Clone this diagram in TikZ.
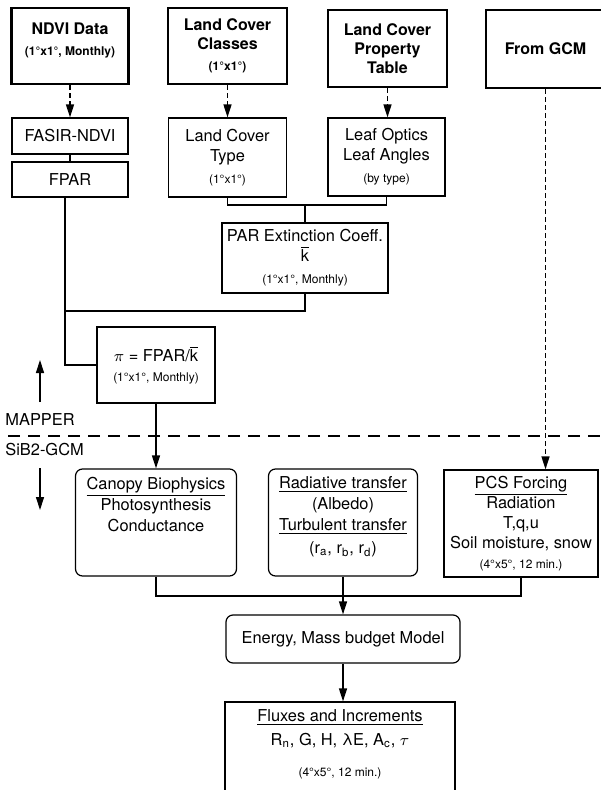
\documentclass[tikz,border=0pt]{standalone}
\usepackage{fontspec}
\setmainfont{TeX Gyre Heros}
\usetikzlibrary{arrows.meta, positioning}
\newcommand{\tinyfont}{\fontsize{6}{7}\selectfont}
\newcommand{\kbar}{$\overline{\mbox{k}}$}

\begin{document}
\begin{tikzpicture}[x=0.5pt, y=-0.5pt,
  cbox/.style={draw, line width=0.6pt, inner sep=0pt, align=center, font=\fontsize{8.2}{10}\selectfont},
  srcbox/.style={cbox, line width=1.3pt, font=\fontsize{8}{9.5}\selectfont\bfseries},
  rbox/.style={cbox, rounded corners=3.5pt},
  txt/.style={inner sep=0pt, align=center, font=\fontsize{8.2}{10.5}\selectfont},
  flow/.style={line width=0.65pt, -{Triangle[length=6.5pt,width=4pt]}},
  dashflow/.style={flow, dash pattern=on 2.5pt off 1.5pt},
  link/.style={line width=0.65pt}]

\useasboundingbox (0,0) rectangle (600,790);

% data sources
\node[srcbox, minimum width=58.5pt, minimum height=38pt] (ndvi) at (70,46) {};
\node[txt, font=\fontsize{8}{9.5}\selectfont\bfseries, below=8pt of ndvi.north] (ndvi-txt)
  {NDVI Data\\[1pt]{\tinyfont (1°x1°, Monthly)}};
\node[srcbox, minimum width=59.5pt, minimum height=38pt] (lcc) at (227.5,46)
  {Land Cover\\Classes\\[1pt]{\tinyfont (1°x1°)}};
\node[srcbox, minimum width=59.5pt, minimum height=38.5pt] (lcpt) at (387.5,48.5)
  {Land Cover\\Property\\Table};
\node[srcbox, minimum width=59.5pt, minimum height=39pt] (gcm) at (545.5,49) {From GCM};

% mapper products
\node[cbox, minimum width=58pt, minimum height=18pt] (fasir) at (70,136) {FASIR-NDVI};
\node[cbox, minimum width=58pt, minimum height=17.5pt] (fpar) at (70,179.5) {FPAR};
\node[cbox, minimum width=59pt, minimum height=39.5pt] (lct) at (227.5,157.5)
  {Land Cover\\Type\\[1pt]{\tinyfont (1°x1°)}};
\node[cbox, minimum width=58.5pt, minimum height=39pt] (leaf) at (386.5,157)
  {Leaf Optics\\Leaf Angles\\[1pt]{\tinyfont (by type)}};
\node[cbox, minimum width=83pt, minimum height=35pt] (par) at (305,258)
  {PAR Extinction Coeff.\\\kbar\\[1pt]{\tinyfont (1°x1°, Monthly)}};
\node[cbox, minimum width=59pt, minimum height=38pt] (pi) at (156,365)
  {$\pi$ = FPAR/\kbar\\{\tinyfont (1°x1°, Monthly)}};

% SiB2 model
\node[rbox, minimum width=80.5pt, minimum height=53.5pt] (canopy) at (156,522.5) {};
\node[txt, below=4pt of canopy.north] (canopy-txt)
  {\underline{Canopy Biophysics}\\Photosynthesis\\Conductance};
\node[rbox, minimum width=74.5pt, minimum height=53.5pt] (radiative) at (343,522.5) {};
\node[txt, below=4pt of radiative.north] (radiative-txt)
  {\underline{Radiative transfer}\\(Albedo)\\\underline{Turbulent transfer}\\[1pt]
   (r\textsubscript{a}, r\textsubscript{b}, r\textsubscript{d})};
\node[cbox, minimum width=77pt, minimum height=53.5pt] (pcs) at (521,523.5)
  {\underline{PCS Forcing}\\Radiation\\T,q,u\\Soil moisture, snow\\{\tinyfont (4°x5°, 12 min.)}};
\node[rbox, minimum width=117pt, minimum height=24pt] (energy) at (343,639)
  {Energy, Mass budget Model};
\node[cbox, minimum width=115pt, minimum height=49pt] (fluxes) at (340,751) {};
\node[txt, below=4pt of fluxes.north] (fluxes-txt)
  {\underline{Fluxes and Increments}\\[1.5pt]
   R\textsubscript{n}, G, H, λE, A\textsubscript{c}, $\tau$\\[5pt]{\tinyfont (4°x5°, 12 min.)}};

% MAPPER / SiB2-GCM divider
\coordinate (div-l) at (8,436);
\coordinate (div-r) at (600,436);
\draw[link, dash pattern=on 6pt off 4pt] (div-l) -- (div-r);
\node[txt, anchor=west] (mapper) at (5,419.5) {MAPPER};
\node[txt, anchor=west] (sib) at (5,450) {SiB2-GCM};
\coordinate (up-s) at (40,402);
\coordinate (up-e) at (40,360);
\coordinate (dn-s) at (40,468);
\coordinate (dn-e) at (40,510);
\draw[flow] (up-s) -- (up-e);
\draw[flow] (dn-s) -- (dn-e);

% connectors
\draw[dashflow] (ndvi) -- (fasir);
\draw[dashflow] (lcc) -- (lct);
\draw[dashflow] (lcpt.south) -- (lcpt.south |- leaf.north);
\draw[dashflow] (gcm.south) -- (gcm.south |- pcs.north);
\draw[link] (fasir) -- (fpar);
\coordinate (j1) at (par.north |- 0,205);
\draw[link] (lct.south) |- (j1) -| (leaf.south);
\draw[link] (j1) -- (par.north);
\coordinate (fpar-s) at ([xshift=-2.5pt]fpar.south);
\coordinate (j2) at (fpar-s |- 0,311);
\draw[link] (par.south) |- (j2);
\draw[link] (fpar-s) |- (pi.west);
\draw[flow] (pi) -- (canopy);
\coordinate (bus) at (radiative.south |- 0,596);
\draw[link] (canopy.south) |- (bus) -| (pcs.south);
\draw[flow] (radiative) -- (energy);
\draw[flow] (energy.south) -- (energy.south |- fluxes.north);

\end{tikzpicture}
\end{document}
